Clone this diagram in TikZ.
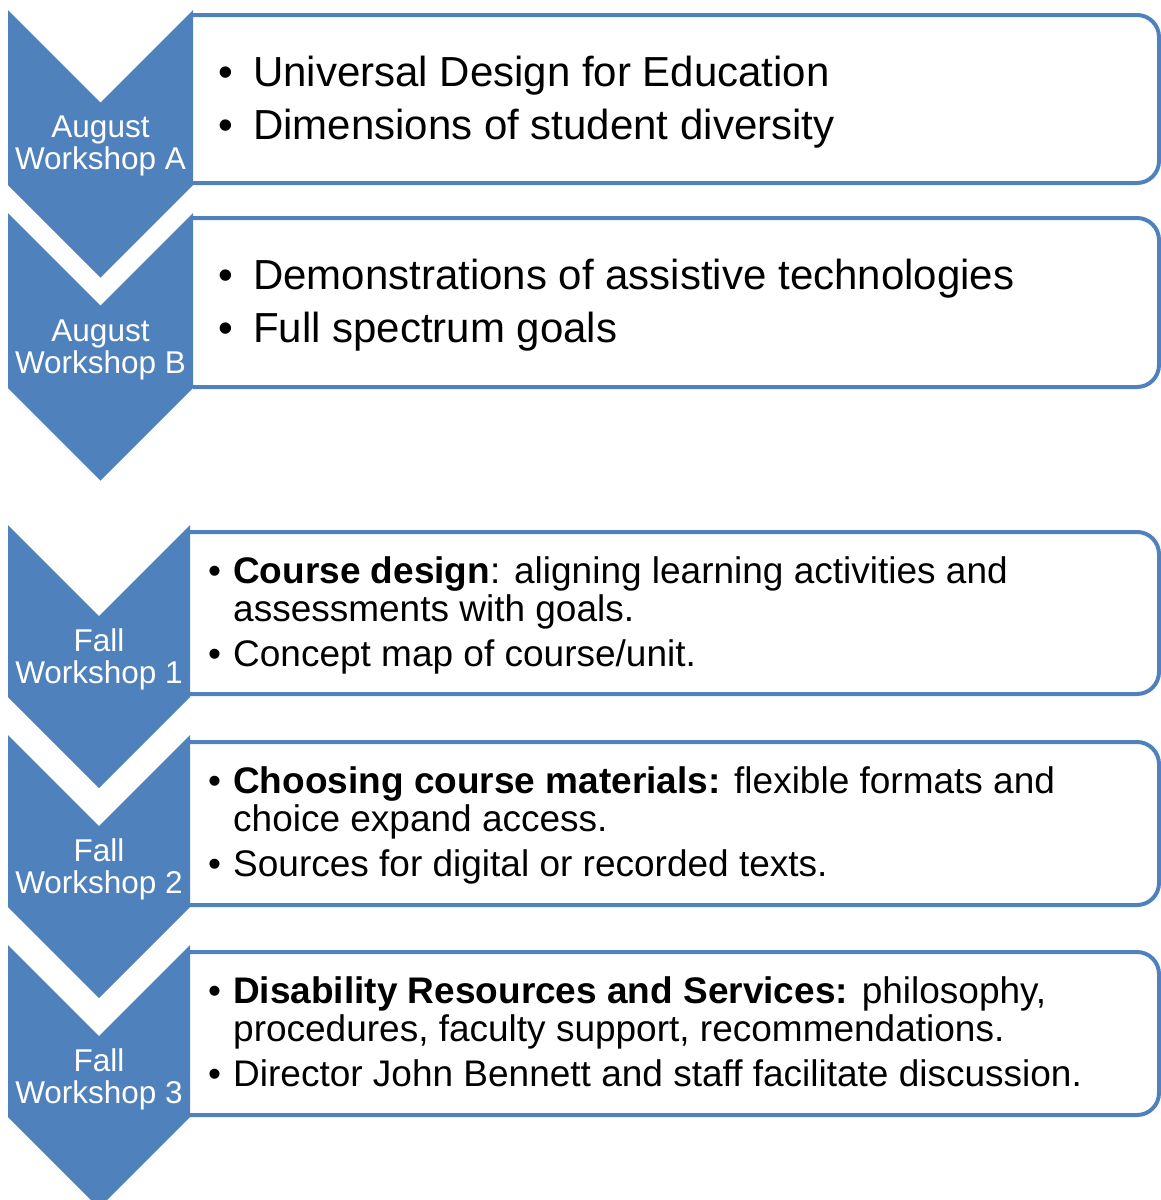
\documentclass[tikz,border=0pt]{standalone}
\usepackage{fontspec}
\setmainfont{Liberation Sans}
\definecolor{chev}{HTML}{4F81BD}
\begin{document}
\begin{tikzpicture}[x=1pt,y=-1pt,
  chevshape/.style={fill=chev,draw=none},
  boxshape/.style={fill=white,draw=chev,line width=4pt,rounded corners=22pt},
  lab/.style={text=white,align=center,inner sep=0pt,font=\fontsize{31.5}{32}\selectfont},
  bigtxt/.style={anchor=base west,inner sep=0pt,font=\fontsize{42}{50}\selectfont},
  smtxt/.style={anchor=base west,inner sep=0pt,font=\fontsize{37}{44}\selectfont}]
\useasboundingbox (0,0) rectangle (1161,1200);
% boxes (open left side, hidden under chevrons)
\path[boxshape] (193,15) -- (1159,15) -- (1159,183) -- (193,183);
\path[boxshape] (193,218) -- (1159,218) -- (1159,387) -- (193,387);
\path[boxshape] (190,532) -- (1159,532) -- (1159,694) -- (190,694);
\path[boxshape] (190,742) -- (1159,742) -- (1159,905) -- (190,905);
\path[boxshape] (190,952) -- (1159,952) -- (1159,1115) -- (190,1115);
% chevrons
\foreach \y in {10,213}{
  \path[chevshape] (8,\y) -- (100.5,\y+92.5) -- (193,\y) -- (193,\y+175) -- (100.5,\y+267.5) -- (8,\y+175) -- cycle;
}
\foreach \y in {525,735,945}{
  \path[chevshape] (8,\y) -- (99,\y+91) -- (190,\y) -- (190,\y+172) -- (99,\y+263) -- (8,\y+172) -- cycle;
}
% chevron labels
\node[lab] (la) at (100.5,146) {August\\Workshop A};
\node[lab] (lb) at (100.5,350) {August\\Workshop B};
\node[lab] (l1) at (99,659.5) {Fall\\Workshop 1};
\node[lab] (l2) at (99,869.5) {Fall\\Workshop 2};
\node[lab] (l3) at (99,1079.5) {Fall\\Workshop 3};
% August A
\node[bigtxt] (a1b) at (218,86) {•};
\node[bigtxt] (a1) at (253,86) {Universal Design for Education};
\node[bigtxt] (a2b) at (218,139) {•};
\node[bigtxt] (a2) at (253,139) {Dimensions of student diversity};
% August B
\node[bigtxt] (b1b) at (218,289) {•};
\node[bigtxt] (b1) at (253,289) {Demonstrations of assistive technologies};
\node[bigtxt] (b2b) at (218,342) {•};
\node[bigtxt] (b2) at (253,342) {Full spectrum goals};
% Fall 1
\node[smtxt] (c1b) at (208,583) {•};
\node[smtxt] (c1) at (233,583) {\textbf{Course design}: aligning learning activities and};
\node[smtxt] (c1x) at (233,621) {assessments with goals.};
\node[smtxt] (c2b) at (208,666) {•};
\node[smtxt] (c2) at (233,666) {Concept map of course/unit.};
% Fall 2
\node[smtxt] (d1b) at (208,793) {•};
\node[smtxt] (d1) at (233,793) {\textbf{Choosing course materials:} flexible formats and};
\node[smtxt] (d1x) at (233,831) {choice expand access.};
\node[smtxt] (d2b) at (208,876) {•};
\node[smtxt] (d2) at (233,876) {Sources for digital or recorded texts.};
% Fall 3
\node[smtxt] (e1b) at (208,1003) {•};
\node[smtxt] (e1) at (233,1003) {\textbf{Disability Resources and Services:} philosophy,};
\node[smtxt] (e1x) at (233,1041) {procedures, faculty support, recommendations.};
\node[smtxt] (e2b) at (208,1086) {•};
\node[smtxt] (e2) at (233,1086) {Director John Bennett and staff facilitate discussion.};
\end{tikzpicture}
\end{document}
